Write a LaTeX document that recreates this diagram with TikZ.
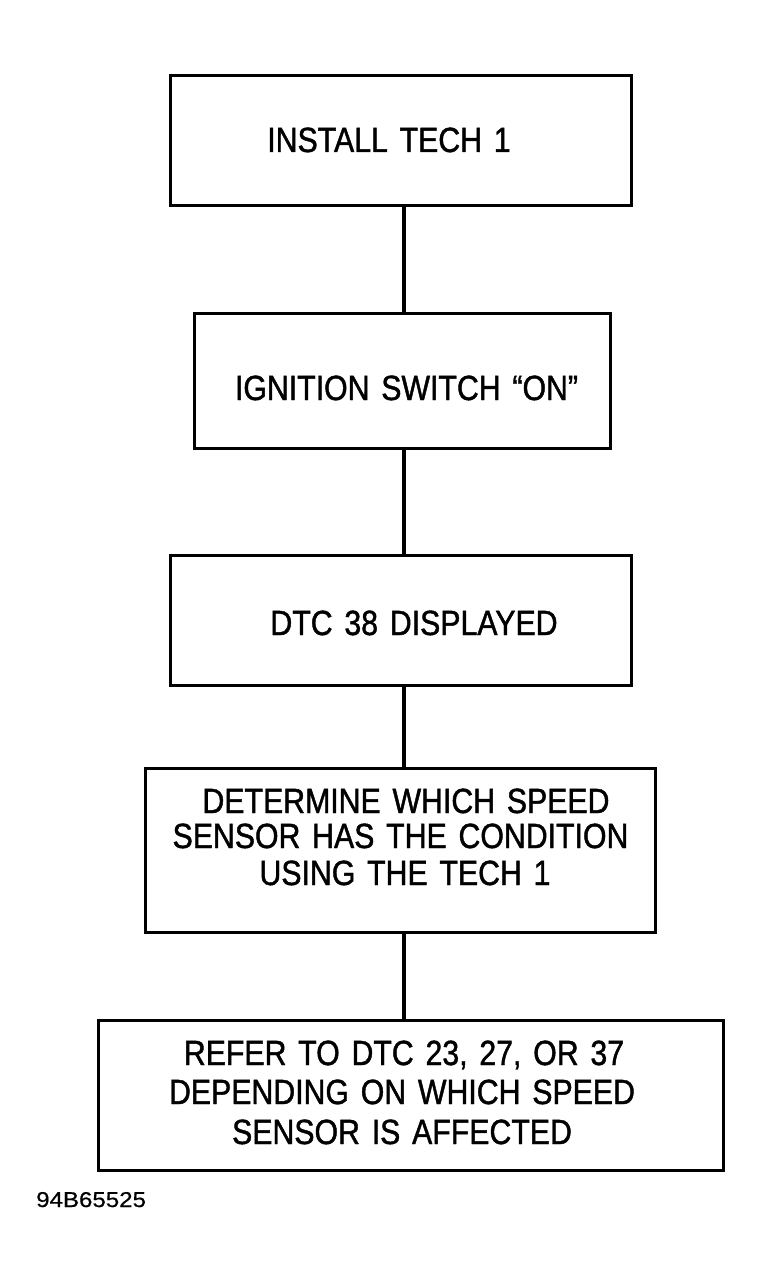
\documentclass[tikz,border=0pt]{standalone}
\usepackage{fontspec}
\setmainfont[FakeStretch=0.865,FakeBold=1.2,WordSpace=1.4]{Liberation Sans}
\newfontfamily\labfont[FakeStretch=1.12,FakeBold=0.6]{Liberation Sans}
\begin{document}
\begin{tikzpicture}[x=1pt,y=-1pt,
  stepbox/.style={draw=black,line width=3pt,rectangle,inner sep=0pt},
  txt/.style={anchor=base,inner sep=0pt,font=\fontsize{35}{38}\selectfont},
  conn/.style={draw=black,line width=3.5pt}]
\useasboundingbox[fill=white] (0,0) rectangle (762,1284);
% boxes
\node[stepbox,minimum width=461pt,minimum height=129pt] (b1) at (400.5,140.5) {};
\node[stepbox,minimum width=416pt,minimum height=135pt] (b2) at (402,380.5) {};
\node[stepbox,minimum width=461pt,minimum height=130pt] (b3) at (400.5,620) {};
\node[stepbox,minimum width=510pt,minimum height=164pt] (b4) at (400,850) {};
\node[stepbox,minimum width=625pt,minimum height=150pt] (b5) at (410.5,1095) {};
% texts
\node[txt] (t1) at (389,152) {INSTALL TECH 1};
\node[txt] (t2) at (406.5,400) {IGNITION SWITCH “ON”};
\node[txt] (t3) at (414,635) {DTC 38 DISPLAYED};
\node[txt] (t4a) at (406,813) {DETERMINE WHICH SPEED};
\node[txt] (t4b) at (400.5,848) {SENSOR HAS THE CONDITION};
\node[txt] (t4c) at (405,885) {USING THE TECH 1};
\node[txt] (t5a) at (404,1065) {REFER TO DTC 23, 27, OR 37};
\node[txt] (t5b) at (402,1104) {DEPENDING ON WHICH SPEED};
\node[txt] (t5c) at (402,1144) {SENSOR IS AFFECTED};
\node[anchor=base west,inner sep=0pt,font=\labfont\fontsize{21.5}{24}\selectfont] (lab) at (36,1207) {94B65525};
% connectors
\coordinate (cx) at (404,0);
\draw[conn] (b1.south -| cx) -- (b2.north -| cx);
\draw[conn] (b2.south -| cx) -- (b3.north -| cx);
\draw[conn] (b3.south -| cx) -- (b4.north -| cx);
\draw[conn] (b4.south -| cx) -- (b5.north -| cx);
\end{tikzpicture}
\end{document}
